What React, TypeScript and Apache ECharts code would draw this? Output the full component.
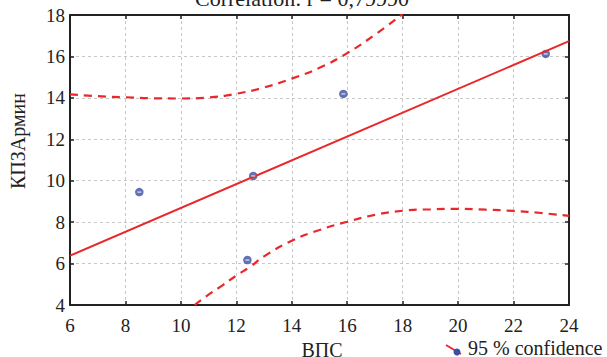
import React, { useEffect, useRef } from "react";
import * as echarts from "echarts";

const xTicks = [6, 8, 10, 12, 14, 16, 18, 20, 22, 24];
const yTicks = [4, 6, 8, 10, 12, 14, 16, 18];
const pointsX = [8.5, 12.61, 12.4, 15.86, 23.16];
const pointsY = [9.45, 10.23, 6.17, 14.19, 16.12];
const fitX = [6, 24];
const fitY = [6.38, 16.74];
const upperX = [6, 7, 8, 9, 10, 11, 12, 13, 14, 15, 16, 17, 18];
const upperY = [14.17, 14.08, 14.03, 13.98, 13.97, 14.02, 14.2, 14.5, 14.93, 15.45, 16.16, 17.05, 18.05];
const lowerX = [10.5, 11, 11.5, 12, 12.5, 13, 14, 15, 16, 17, 18, 19, 20, 21, 22, 23, 24];
const lowerY = [4.0, 4.5, 4.95, 5.42, 5.85, 6.35, 7.1, 7.62, 8.02, 8.35, 8.55, 8.62, 8.64, 8.6, 8.54, 8.44, 8.3];
const titleText = "Correlation: r = 0,79990";
const xName = "ВПС";
const yName = "КПЗАрмин";
const legendText = "95 % confidence";

const RED = "#e8282b";
const BLUE = "#3b4ea0";
const FONT = "Liberation Serif";

const zip = (a: number[], b: number[]) => a.map((v, i) => [v, b[i]]);

export default function App() {
  const ref = useRef<HTMLDivElement>(null);
  useEffect(() => {
    if (!ref.current) return;
    const chart = echarts.init(ref.current, null, { renderer: "svg" });
    const axisLine = { show: true, lineStyle: { color: "#222", width: 2 } };
    const tick = { show: true, inside: true, length: 4, lineStyle: { color: "#222", width: 1.5 } };
    const split = { show: true, lineStyle: { color: "#c8c8c8", type: [3, 3] as any, width: 1 } };
    const label = { fontFamily: FONT, fontSize: 19, color: "#222" };
    chart.setOption({
      animation: false,
      backgroundColor: "#fff",
      grid: { left: 70, right: 38, top: 15, bottom: 52, containLabel: false },
      xAxis: [
        {
          type: "value", min: 6, max: 24, interval: 2, position: "bottom",
          axisLine, axisTick: tick, splitLine: split,
          axisLabel: { ...label, margin: 11, formatter: (v: number) => (xTicks.includes(v) ? String(v) : "") },
        },
        {
          type: "value", min: 6, max: 24, interval: 2, position: "top",
          axisLine, axisTick: tick, splitLine: { show: false }, axisLabel: { show: false },
        },
      ],
      yAxis: [
        {
          type: "value", min: 4, max: 18, interval: 2, position: "left",
          axisLine, axisTick: tick, splitLine: split,
          axisLabel: { ...label, margin: 5, formatter: (v: number) => (yTicks.includes(v) ? String(v) : "") },
        },
        {
          type: "value", min: 4, max: 18, interval: 2, position: "right",
          axisLine, axisTick: tick, splitLine: { show: false }, axisLabel: { show: false },
        },
      ],
      series: [
        {
          type: "line", data: zip(upperX, upperY), smooth: true, symbol: "none", clip: true,
          lineStyle: { color: RED, width: 2.2, type: [8, 6] as any },
        },
        {
          type: "line", data: zip(lowerX, lowerY), smooth: true, symbol: "none", clip: true,
          lineStyle: { color: RED, width: 2.2, type: [8, 6] as any },
        },
        {
          type: "line", data: zip(fitX, fitY), symbol: "none", clip: true,
          lineStyle: { color: RED, width: 2 },
        },
        {
          type: "scatter", data: zip(pointsX, pointsY), symbol: "circle", symbolSize: 8.5,
          itemStyle: { color: BLUE },
        },
        {
          type: "scatter", data: zip(pointsX, pointsY), symbol: "rect", symbolSize: [4, 1.2],
          itemStyle: { color: "#ffffff" }, z: 5,
        },
      ],
      graphic: [
        {
          type: "text", x: 302, y: 9,
          style: { text: titleText, fontFamily: FONT, fontSize: 22, fill: "#222", align: "center", verticalAlign: "bottom" },
        },
        {
          type: "text", x: 322, y: 350,
          style: { text: xName, fontFamily: FONT, fontSize: 20, fill: "#222", align: "center", verticalAlign: "middle" },
        },
        {
          type: "text", x: 18, y: 141, rotation: Math.PI / 2,
          style: { text: yName, fontFamily: FONT, fontSize: 20, fill: "#222", align: "center", verticalAlign: "middle" },
        },
        {
          type: "line", shape: { x1: 446, y1: 345, x2: 461, y2: 354 },
          style: { stroke: RED, lineWidth: 2 },
        },
        {
          type: "circle", shape: { cx: 457, cy: 352, r: 3.5 }, style: { fill: BLUE },
        },
        {
          type: "text", x: 468, y: 348,
          style: { text: legendText, fontFamily: FONT, fontSize: 20, fill: "#222", align: "left", verticalAlign: "middle" },
        },
      ],
    });
    return () => chart.dispose();
  }, []);
  return <div ref={ref} style={{ position: "fixed", left: 0, top: 0, width: 607, height: 357 }} />;
}
